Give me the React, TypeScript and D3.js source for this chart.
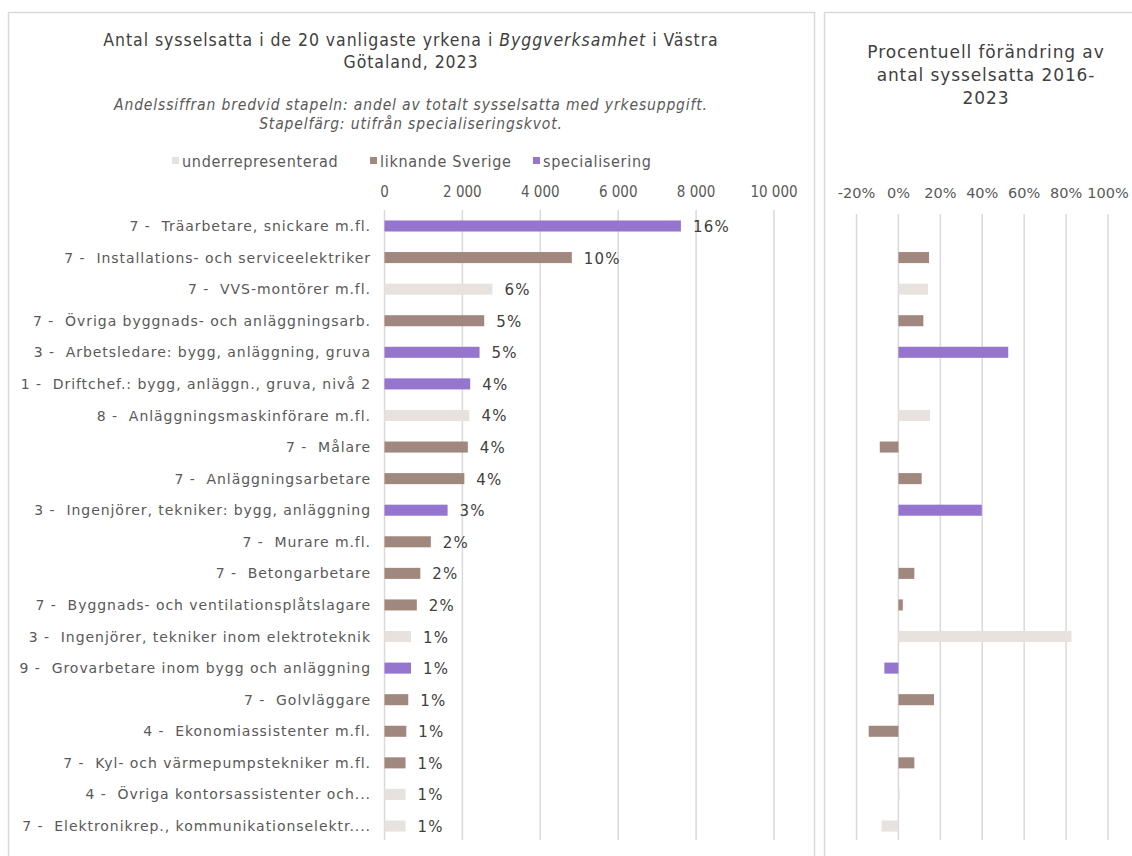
import * as d3 from 'd3';

const occupations = [
  '7 -  Träarbetare, snickare m.fl.',
  '7 -  Installations- och serviceelektriker',
  '7 -  VVS-montörer m.fl.',
  '7 -  Övriga byggnads- och anläggningsarb.',
  '3 -  Arbetsledare: bygg, anläggning, gruva',
  '1 -  Driftchef.: bygg, anläggn., gruva, nivå 2',
  '8 -  Anläggningsmaskinförare m.fl.',
  '7 -  Målare',
  '7 -  Anläggningsarbetare',
  '3 -  Ingenjörer, tekniker: bygg, anläggning',
  '7 -  Murare m.fl.',
  '7 -  Betongarbetare',
  '7 -  Byggnads- och ventilationsplåtslagare',
  '3 -  Ingenjörer, tekniker inom elektroteknik',
  '9 -  Grovarbetare inom bygg och anläggning',
  '7 -  Golvläggare',
  '4 -  Ekonomiassistenter m.fl.',
  '7 -  Kyl- och värmepumpstekniker m.fl.',
  '4 -  Övriga kontorsassistenter och...',
  '7 -  Elektronikrep., kommunikationselektr....',
];

const employed = [
  7610, 4810, 2770, 2560, 2440, 2200, 2180, 2140, 2050, 1620,
  1190, 920, 830, 680, 680, 610, 560, 540, 540, 540,
];

const shareLabels = [
  '16%', '10%', '6%', '5%', '5%', '4%', '4%', '4%', '4%', '3%',
  '2%', '2%', '2%', '1%', '1%', '1%', '1%', '1%', '1%', '1%',
];

// 0 = underrepresenterad, 1 = liknande Sverige, 2 = specialisering
const specClass = [2, 1, 0, 1, 2, 2, 0, 1, 1, 2, 1, 1, 1, 0, 2, 1, 1, 1, 0, 0];

// procentuell förändring 2016-2023 (null = ingen stapel)
const change = [
  null, 0.146, 0.141, 0.119, 0.524, null, 0.151, -0.089, 0.111, 0.398,
  null, 0.076, 0.021, 0.826, -0.067, 0.17, -0.142, 0.076, 0.006, -0.08,
];

const legendLabels = ['underrepresenterad', 'liknande Sverige', 'specialisering'];
const colors = ['#E8E2DF', '#A1887F', '#9575CD'];

const leftTicks = [0, 2000, 4000, 6000, 8000, 10000];
const rightTicks = [-0.2, 0, 0.2, 0.4, 0.6, 0.8, 1.0];

const fmtNum = d3.formatLocale({
  decimal: ',',
  thousands: '\u00a0',
  grouping: [3],
  currency: ['', ''],
}).format(',');
const fmtPct = (v: number) => `${Math.round(v * 100)}%`;

const narrow = '"DejaVu Sans Condensed", "Liberation Sans Narrow", "DejaVu Sans", sans-serif';
const verdana = '"DejaVu Sans", Verdana, sans-serif';

export default function App() {
  const y = d3
    .scaleBand<string>()
    .domain(occupations)
    .range([210.2, 841.8])
    .paddingInner(0.65)
    .paddingOuter(0.325);

  const x = d3.scaleLinear().domain([0, 10000]).range([384.5, 774]);
  const xr = d3.scaleLinear().domain([-0.2, 1.0]).range([856.5, 1108]);

  const bh = y.bandwidth();
  const legendX = [172, 370, 533];

  return (
    <svg
      width={1132}
      height={856}
      style={{ position: 'absolute', left: 0, top: 0, background: '#fff' }}
    >
      {/* panel frames */}
      <rect x={8.5} y={12.5} width={806} height={860} fill="none" stroke="#d9d9d9" strokeWidth={1.5} />
      <rect x={824.5} y={12.5} width={330} height={860} fill="none" stroke="#d9d9d9" strokeWidth={1.5} />

      {/* left titles */}
      <g fill="#404040" textAnchor="middle" fontFamily={narrow}>
        <text x={411} y={46} fontSize={17.5} letterSpacing={0.95}>
          Antal sysselsatta i de 20 vanligaste yrkena i <tspan fontStyle="italic">Byggverksamhet</tspan> i Västra
        </text>
        <text x={411} y={68} fontSize={17.5} letterSpacing={0.95}>Götaland, 2023</text>
        <text x={411} y={110} fontSize={15.5} letterSpacing={0.85} fontStyle="italic" fill="#595959">
          Andelssiffran bredvid stapeln: andel av totalt sysselsatta med yrkesuppgift.
        </text>
        <text x={411} y={129} fontSize={15.5} letterSpacing={0.85} fontStyle="italic" fill="#595959">
          Stapelfärg: utifrån specialiseringskvot.
        </text>
      </g>

      {/* legend */}
      <g fontFamily={narrow} fontSize={16} letterSpacing={0.7} fill="#595959">
        {legendLabels.map((l, i) => (
          <g key={l} transform={`translate(${legendX[i]},161)`}>
            <rect x={0} y={-4} width={7} height={7} fill={colors[i]} />
            <text x={10} y={5.5}>{l}</text>
          </g>
        ))}
      </g>

      {/* left axis */}
      <g>
        {leftTicks.map((t) => (
          <g key={t}>
            <line x1={x(t)} x2={x(t)} y1={210} y2={840} stroke="#d9d9d9" strokeWidth={1.5} />
            <text
              x={x(t)}
              y={197}
              textAnchor="middle"
              fontFamily={narrow}
              fontSize={15}
              fill="#595959"
            >
              {fmtNum(t)}
            </text>
          </g>
        ))}
      </g>

      {/* left bars */}
      <g>
        {occupations.map((o, i) => {
          const yy = y(o)!;
          return (
            <g key={o}>
              <text
                x={371}
                y={yy + bh / 2}
                dy="0.36em"
                textAnchor="end"
                fontFamily={verdana}
                fontSize={14}
                letterSpacing={0.95}
                fill="#595959"
                style={{ whiteSpace: 'pre' }}
              >
                {o}
              </text>
              <rect x={x(0)} y={yy} width={x(employed[i]) - x(0)} height={bh} fill={colors[specClass[i]]} />
              <text
                x={x(employed[i]) + 12}
                y={yy + bh / 2}
                dy="0.4em"
                fontFamily={verdana}
                fontSize={15}
                letterSpacing={1.2}
                fill="#404040"
              >
                {shareLabels[i]}
              </text>
            </g>
          );
        })}
      </g>

      {/* right titles */}
      <g fill="#404040" textAnchor="middle" fontFamily={verdana} fontSize={17} letterSpacing={0.9}>
        <text x={986} y={58}>Procentuell förändring av</text>
        <text x={986} y={81}>antal sysselsatta 2016-</text>
        <text x={986} y={104}>2023</text>
      </g>

      {/* right axis */}
      <g>
        {rightTicks.map((t) => (
          <g key={t}>
            <line x1={xr(t)} x2={xr(t)} y1={214} y2={840} stroke="#d9d9d9" strokeWidth={1.5} />
            <text
              x={xr(t)}
              y={198}
              textAnchor="middle"
              fontFamily={verdana}
              fontSize={14.5}
              fill="#595959"
            >
              {fmtPct(t)}
            </text>
          </g>
        ))}
      </g>

      {/* right bars */}
      <g>
        {occupations.map((o, i) => {
          const v = change[i];
          if (v === null) return null;
          const yy = y(o)!;
          const x0 = xr(Math.min(0, v));
          const x1 = xr(Math.max(0, v));
          return (
            <rect key={o} x={x0} y={yy} width={Math.max(1, x1 - x0)} height={bh} fill={colors[specClass[i]]} />
          );
        })}
      </g>
    </svg>
  );
}
